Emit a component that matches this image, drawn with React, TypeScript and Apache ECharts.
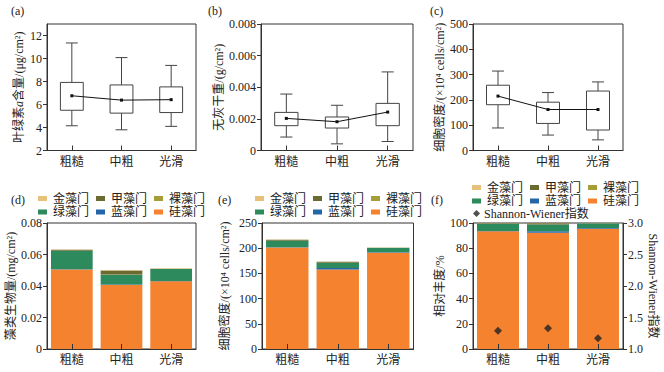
import React, { useEffect, useRef } from 'react';
import * as echarts from 'echarts';

const FONT = "'Liberation Serif', 'Noto Sans CJK SC', serif";
const TXT = '#222';
const AX = '#333';

const categories = ['粗糙', '中粗', '光滑'];

// (a) 叶绿素a含量 box plot
const chlMin = [4.15, 3.8, 4.1];
const chlQ1 = [5.5, 5.25, 5.3];
const chlQ3 = [7.92, 7.7, 7.53];
const chlMax = [11.35, 10.08, 9.4];
const chlMean = [6.76, 6.38, 6.42];

// (b) 无灰干重 box plot
const afdwMin = [0.00085, 0.00042, 0.00057];
const afdwQ1 = [0.00157, 0.00142, 0.00157];
const afdwQ3 = [0.00241, 0.00212, 0.00298];
const afdwMax = [0.00357, 0.00286, 0.00497];
const afdwMean = [0.00203, 0.00182, 0.00243];

// (c) 细胞密度 box plot
const denMin = [89, 61, 42];
const denQ1 = [181, 107, 81];
const denQ3 = [258, 191, 235];
const denMax = [314, 229, 271];
const denMean = [215, 162, 162];

// stacked phyla, bottom -> top
const phyla = ['硅藻门', '蓝藻门', '绿藻门', '裸藻门', '甲藻门', '金藻门'];
const phylaColors = ['#f5822f', '#2566a8', '#2d8a5d', '#a59d35', '#6b6a30', '#e9bf7c'];

// (d) 藻类生物量 mg/cm2
const bioDiatom = [0.0504, 0.0406, 0.043];
const bioCyano = [0.0002, 0.0003, 0.0002];
const bioGreen = [0.0118, 0.0063, 0.0078];
const bioEuglena = [0, 0.0001, 0];
const bioDino = [0.0006, 0.0026, 0];
const bioChryso = [0.0002, 0.0002, 0.0003];

// (e) 细胞密度 ×10^4 cells/cm2
const cellDiatom = [201.5, 157.5, 191];
const cellCyano = [0.5, 3.2, 1.2];
const cellGreen = [13, 9.9, 8.8];
const cellEuglena = [0, 0.4, 0];
const cellDino = [2, 2, 0];
const cellChryso = [0.3, 0.3, 0.3];

// (f) 相对丰度 %
const relDiatom = [93.4, 92.2, 95.4];
const relCyano = [0.3, 1.2, 0.7];
const relGreen = [5.8, 5.4, 3.7];
const relEuglena = [0, 0.1, 0];
const relDino = [0.4, 1.0, 0];
const relChryso = [0.1, 0.1, 0.2];
const shannon = [1.29, 1.33, 1.17];

const bioStack = [bioDiatom, bioCyano, bioGreen, bioEuglena, bioDino, bioChryso];
const cellStack = [cellDiatom, cellCyano, cellGreen, cellEuglena, cellDino, cellChryso];
const relStack = [relDiatom, relCyano, relGreen, relEuglena, relDino, relChryso];

const legendRow1 = ['金藻门', '甲藻门', '裸藻门'];
const legendRow2 = ['绿藻门', '蓝藻门', '硅藻门'];

function boxData(mn: number[], q1: number[], q3: number[], mx: number[]) {
  return categories.map((_, i) => [i, mn[i], q1[i], q3[i], mx[i]]);
}

function boxRender(params: any, api: any) {
  const x = api.value(0);
  const lo = api.coord([x, api.value(1)]);
  const q1 = api.coord([x, api.value(2)]);
  const q3 = api.coord([x, api.value(3)]);
  const hi = api.coord([x, api.value(4)]);
  const band = api.size([1, 0])[0];
  const bw = band * 0.46;
  const cw = bw * 0.52;
  const st = { stroke: '#444', lineWidth: 1, fill: 'none' };
  const cx = lo[0];
  return {
    type: 'group',
    children: [
      { type: 'line', shape: { x1: cx, y1: hi[1], x2: cx, y2: q3[1] }, style: st },
      { type: 'line', shape: { x1: cx, y1: q1[1], x2: cx, y2: lo[1] }, style: st },
      { type: 'line', shape: { x1: cx - cw / 2, y1: hi[1], x2: cx + cw / 2, y2: hi[1] }, style: st },
      { type: 'line', shape: { x1: cx - cw / 2, y1: lo[1], x2: cx + cw / 2, y2: lo[1] }, style: st },
      {
        type: 'rect',
        shape: { x: cx - bw / 2, y: q3[1], width: bw, height: q1[1] - q3[1] },
        style: { stroke: '#444', lineWidth: 1, fill: '#fff' },
      },
    ],
  };
}

const textBase = { fontSize: 12, fontFamily: FONT, color: TXT };

function xAxisCfg(gridIndex: number) {
  return {
    type: 'category',
    gridIndex,
    data: categories,
    z: 10,
    axisLine: { show: true, lineStyle: { color: AX, width: 1 } },
    axisTick: { show: true, inside: true, alignWithLabel: true, length: 5, lineStyle: { color: AX } },
    axisLabel: { ...textBase, margin: 5 },
    splitLine: { show: false },
  };
}

function yAxisCfg(gridIndex: number, min: number, max: number, interval: number, name: string, nameGap: number, extra: any = {}) {
  return {
    type: 'value',
    gridIndex,
    min,
    max,
    interval,
    name,
    nameLocation: 'middle',
    nameGap,
    nameRotate: 90,
    nameTextStyle: {
      ...textBase,
      rich: {
        i: { fontSize: 12, fontFamily: FONT, color: TXT, fontStyle: 'italic' },
      },
    },
    axisLine: { show: true, lineStyle: { color: AX, width: 1 } },
    axisTick: { show: true, inside: false, length: 4, lineStyle: { color: AX } },
    axisLabel: { ...textBase, margin: 5 },
    splitLine: { show: false },
    ...extra,
  };
}

function legendRow(names: string[], left: number, top: number) {
  return {
    data: names,
    left,
    top,
    orient: 'horizontal',
    itemWidth: 9,
    itemHeight: 5,
    itemGap: 7,
    icon: 'rect',
    padding: 0,
    selectedMode: false,
    textStyle: { ...textBase, padding: [0, 0, 0, 1] },
  };
}

function stackSeries(stack: number[][], gridIdx: number, key: string) {
  return phyla.map((name, k) => ({
    type: 'bar',
    name,
    xAxisIndex: gridIdx,
    yAxisIndex: gridIdx,
    stack: key,
    data: stack[k],
    barCategoryGap: '16%',
    itemStyle: { color: phylaColors[k] },
    z: 2,
  }));
}

function meanSeries(data: number[], idx: number) {
  return {
    type: 'line',
    xAxisIndex: idx,
    yAxisIndex: idx,
    data,
    symbol: 'rect',
    symbolSize: 3,
    itemStyle: { color: '#111' },
    lineStyle: { color: '#111', width: 1 },
    z: 6,
  };
}

function boxSeries(mn: number[], q1: number[], q3: number[], mx: number[], idx: number) {
  return {
    type: 'custom',
    xAxisIndex: idx,
    yAxisIndex: idx,
    data: boxData(mn, q1, q3, mx),
    encode: { x: 0, y: [1, 2, 3, 4] },
    renderItem: boxRender,
    z: 3,
  };
}

export default function App() {
  const ref = useRef<HTMLDivElement>(null);
  useEffect(() => {
    if (!ref.current) return;
    const chart = echarts.init(ref.current, undefined, { renderer: 'svg' });
    const gridBase = { show: true, borderColor: AX, borderWidth: 1, backgroundColor: 'transparent', containLabel: false };
    const option: any = {
      animation: false,
      textStyle: { fontFamily: FONT },
      title: [
        { text: '(a)', left: 11, top: 5 },
        { text: '(b)', left: 208, top: 5 },
        { text: '(c)', left: 430, top: 5 },
        { text: '(d)', left: 11, top: 194 },
        { text: '(e)', left: 218, top: 194 },
        { text: '(f)', left: 431, top: 194 },
      ].map((t) => ({ ...t, padding: 0, textStyle: { ...textBase, fontWeight: 'normal' } })),
      grid: [
        { ...gridBase, left: 47, top: 24, width: 149, height: 126.5 },
        { ...gridBase, left: 261, top: 24, width: 152, height: 126.5 },
        { ...gridBase, left: 473, top: 24, width: 150, height: 126.5 },
        { ...gridBase, left: 47, top: 223, width: 149, height: 126 },
        { ...gridBase, left: 262, top: 223, width: 151.5, height: 126 },
        { ...gridBase, left: 473, top: 223, width: 150, height: 126 },
      ],
      xAxis: [0, 1, 2, 3, 4, 5].map((i) => xAxisCfg(i)),
      yAxis: [
        yAxisCfg(0, 2, 13, 2, '叶绿素{i|a}含量/(μg/cm²)', 22, { axisLabel: { ...textBase, margin: 5, showMaxLabel: false } }),
        yAxisCfg(1, 0, 0.008, 0.002, '无灰干重/(g/cm²)', 30),
        yAxisCfg(2, 0, 500, 100, '细胞密度/(×10⁴ cells/cm²)', 23),
        yAxisCfg(3, 0, 0.08, 0.02, '藻类生物量/(mg/cm²)', 26),
        yAxisCfg(4, 0, 250, 50, '细胞密度/(×10⁴ cells/cm²)', 31),
        yAxisCfg(5, 0, 100, 20, '相对丰度/%', 21),
        yAxisCfg(5, 1, 3, 0.5, 'Shannon-Wiener指数', 23, {
          position: 'right',
          nameRotate: -90,
          axisLabel: { ...textBase, margin: 5, formatter: (v: number) => v.toFixed(1) },
        }),
      ],
      legend: [
        legendRow(legendRow1, 38, 192.5),
        legendRow(legendRow2, 38, 206),
        legendRow(legendRow1, 255, 192.5),
        legendRow(legendRow2, 255, 206),
        legendRow(legendRow1, 472, 181.5),
        legendRow(legendRow2, 472, 195),
        {
          data: [{ name: 'Shannon-Wiener指数', icon: 'diamond' }],
          left: 473,
          top: 207.5,
          itemWidth: 7,
          itemHeight: 7,
          padding: 0,
          selectedMode: false,
          textStyle: { ...textBase, padding: [0, 0, 0, -1] },
        },
      ],
      series: [
        boxSeries(chlMin, chlQ1, chlQ3, chlMax, 0),
        meanSeries(chlMean, 0),
        boxSeries(afdwMin, afdwQ1, afdwQ3, afdwMax, 1),
        meanSeries(afdwMean, 1),
        boxSeries(denMin, denQ1, denQ3, denMax, 2),
        meanSeries(denMean, 2),
        ...stackSeries(bioStack, 3, 'bio'),
        ...stackSeries(cellStack, 4, 'cell'),
        ...stackSeries(relStack, 5, 'rel'),
        {
          type: 'scatter',
          name: 'Shannon-Wiener指数',
          xAxisIndex: 5,
          yAxisIndex: 6,
          data: shannon,
          symbol: 'diamond',
          symbolSize: 8,
          itemStyle: { color: '#222' },
          z: 8,
        },
      ],
    };
    chart.setOption(option);
    return () => chart.dispose();
  }, []);
  return <div ref={ref} style={{ position: 'fixed', left: 0, top: 0, width: 664, height: 372, background: '#fff' }} />;
}
